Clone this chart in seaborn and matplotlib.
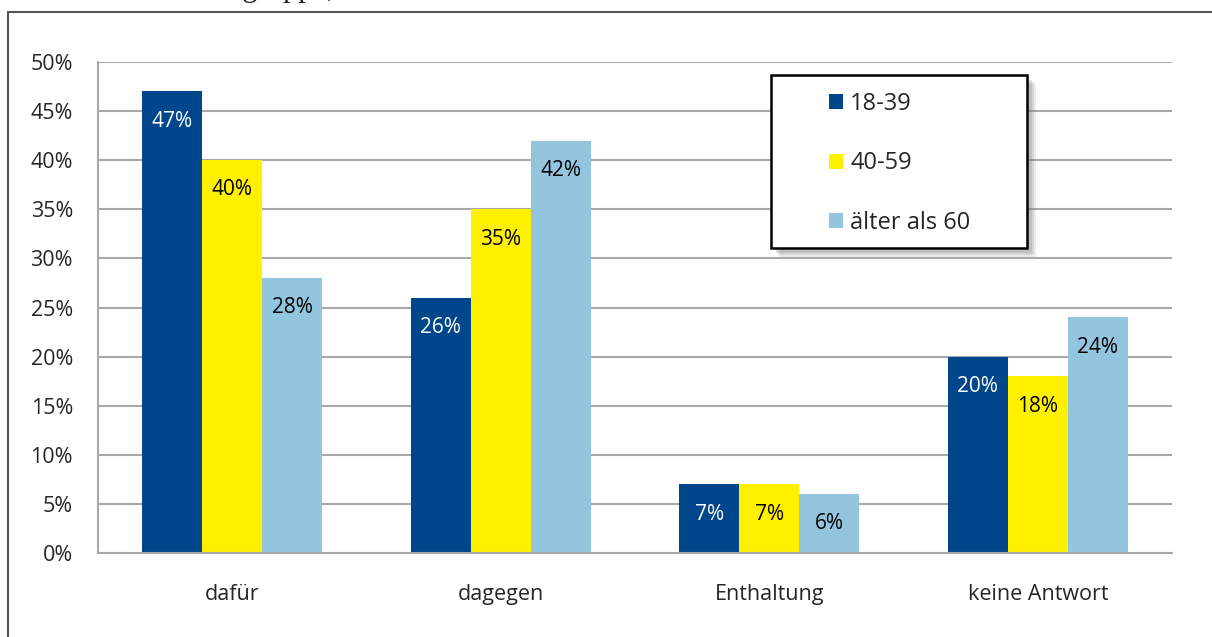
import matplotlib
matplotlib.use("Agg")
import matplotlib.pyplot as plt
from matplotlib.lines import Line2D
from matplotlib.patches import Rectangle
import seaborn as sns
import pandas as pd

# Data
categories = ["dafür", "dagegen", "Enthaltung", "keine Antwort"]
groups = ["18-39", "40-59", "älter als 60"]
values_18_39 = [47, 26, 7, 20]
values_40_59 = [40, 35, 7, 18]
values_60 = [28, 42, 6, 24]
y_ticks = [0, 5, 10, 15, 20, 25, 30, 35, 40, 45, 50]

palette = {"18-39": "#00468b", "40-59": "#fff000", "älter als 60": "#94c5de"}
label_colors = {"18-39": "white", "40-59": "black", "älter als 60": "black"}

rows = []
for grp, vals in zip(groups, [values_18_39, values_40_59, values_60]):
    for cat, v in zip(categories, vals):
        rows.append({"Kategorie": cat, "Gruppe": grp, "Wert": v})
df = pd.DataFrame(rows)

sns.set_style("white")
plt.rcParams["font.family"] = ["Open Sans", "DejaVu Sans"]

W, H = 1212, 637
fig = plt.figure(figsize=(W / 100, H / 100), dpi=100)
ax = fig.add_axes([98 / W, 1 - 553 / H, (1172 - 98) / W, (553 - 62) / H])

sns.barplot(data=df, x="Kategorie", y="Wert", hue="Gruppe", order=categories,
            hue_order=groups, palette=palette, width=0.67, gap=0,
            saturation=1, errorbar=None, ax=ax, linewidth=0)

# value labels inside bars
for container, grp in zip(ax.containers, groups):
    labels = [f"{int(v)}%" for v in container.datavalues]
    ax.bar_label(container, labels=labels, padding=-29, color=label_colors[grp],
                 fontsize=15)

ax.set_xlim(-0.5, 3.5)
ax.set_ylim(0, 50)
ax.set_yticks(y_ticks)
ax.set_yticklabels([f"{t}%" for t in y_ticks], fontsize=15.5)
ax.grid(axis="y", color="#a8a8a8", linewidth=1.5)
ax.set_axisbelow(True)
ax.set_xlabel("")
ax.set_ylabel("")
ax.tick_params(axis="x", which="major", length=0, pad=22, labelsize=15.5)
ax.set_xticks([-0.5, 0.5, 1.5, 2.5, 3.5], minor=True)
ax.tick_params(axis="x", which="minor", length=8, color="#a8a8a8", width=1.5)
ax.tick_params(axis="y", length=8, color="#a8a8a8", width=1.5, pad=10)

for side in ["top", "right"]:
    ax.spines[side].set_visible(False)
for side in ["left", "bottom"]:
    ax.spines[side].set_color("#a8a8a8")
    ax.spines[side].set_linewidth(1.5)

# legend box with soft shadow, drawn in figure pixels
bx0, by0, bx1, by1 = 771, 75, 1027, 248
for off, a in [(9, 0.15), (7, 0.2), (5, 0.25)]:
    fig.add_artist(Rectangle(((bx0 + off) / W, 1 - (by1 + off) / H), (bx1 - bx0) / W,
                             (by1 - by0) / H, transform=fig.transFigure,
                             facecolor="#808080", edgecolor="none", alpha=a, zorder=5))
box = Rectangle((bx0 / W, 1 - by1 / H), (bx1 - bx0) / W, (by1 - by0) / H,
                transform=fig.transFigure, facecolor="white", edgecolor="black",
                linewidth=1.8, zorder=6)
fig.add_artist(box)

handles, labels = ax.get_legend_handles_labels()
ax.legend_.remove()
leg = fig.legend(handles, labels, loc="upper left", bbox_to_anchor=(829 / W, 1 - 92 / H),
                 frameon=False, fontsize=17, handlelength=0.6, handleheight=0.6,
                 handletextpad=0.3, labelspacing=1.5, borderpad=0, borderaxespad=0)
leg.set_zorder(7)

# outer frame around the figure region
fig.add_artist(Line2D([8 / W, 8 / W], [0, 1 - 12 / H], color="#555555",
                      linewidth=1.5, transform=fig.transFigure))
fig.add_artist(Line2D([8 / W, 1], [1 - 12 / H, 1 - 12 / H], color="#555555",
                      linewidth=1.5, transform=fig.transFigure))

# heading above the frame, clipped by the image edge as in the source
fig.text(335 / W, 1 + 4 / H, "Altersgruppe,", ha="right", va="baseline",
         fontsize=22, family=["Liberation Serif", "DejaVu Serif"])

fig.savefig("out.png", dpi=100)
